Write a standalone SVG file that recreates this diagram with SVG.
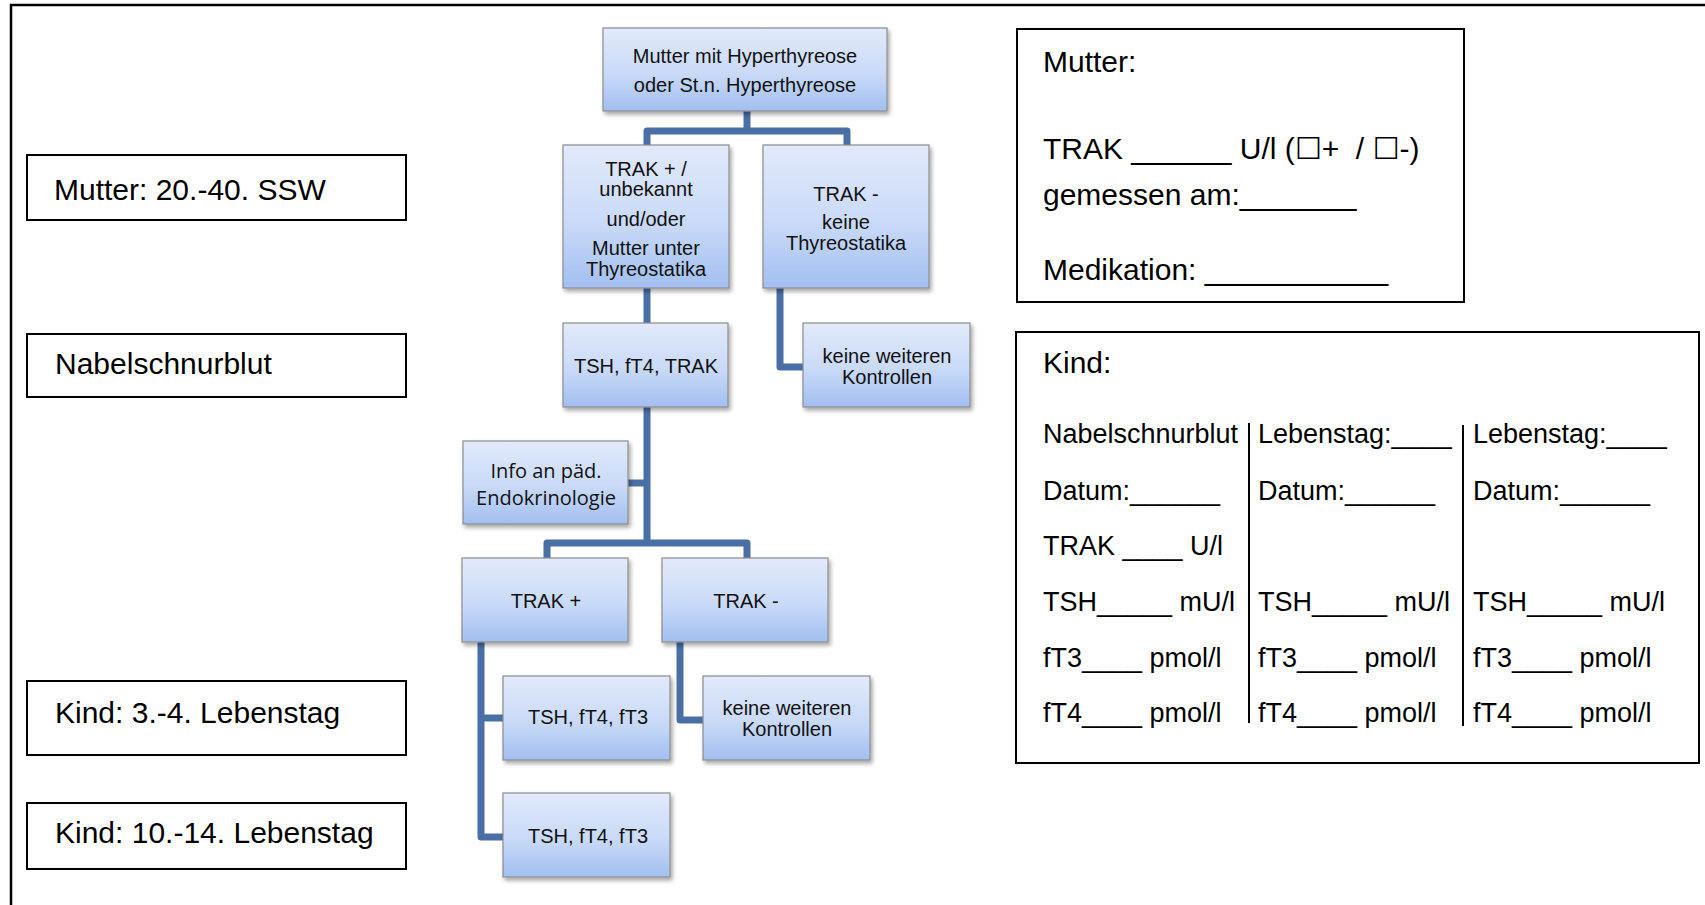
<svg xmlns="http://www.w3.org/2000/svg" width="1705" height="905" viewBox="0 0 1705 905">
<style>
.frame{fill:none;stroke:#000;stroke-width:2.5}
.lbl{fill:#fff;stroke:#000;stroke-width:2}
.lt{font-family:"Liberation Sans",Arial,sans-serif;font-size:30px;fill:#000}
.fb{fill:url(#bg);stroke:#8c8c8c;stroke-width:1.2;filter:url(#sh)}
.ft{font-family:"Liberation Sans",Arial,sans-serif;font-size:20px;fill:#111;text-anchor:middle}
.fo{font-family:"Open Sans","Noto Sans",sans-serif;font-size:20px;fill:#111;text-anchor:middle}
.con{fill:none;stroke:#4a6fa5;stroke-width:7;stroke-linejoin:round}
.box{fill:#fff;stroke:#000;stroke-width:2}
.mt{font-family:"Liberation Sans",Arial,"DejaVu Sans",sans-serif;font-size:30px;fill:#000;white-space:pre}
.kt{font-family:"Liberation Sans",Arial,"DejaVu Sans",sans-serif;font-size:27px;fill:#000;white-space:pre}
.sep{stroke:#000;stroke-width:2}
</style>
<defs>
<linearGradient id="bg" x1="0" y1="0" x2="0" y2="1">
<stop offset="0" stop-color="#e2eafb"/>
<stop offset="0.55" stop-color="#c9daf8"/>
<stop offset="1" stop-color="#a2bff0"/>
</linearGradient>
<filter id="sh" x="-10%" y="-10%" width="125%" height="130%">
<feDropShadow dx="2" dy="3" stdDeviation="2" flood-color="#000" flood-opacity="0.35"/>
</filter>
</defs>
<rect width="1705" height="905" fill="#fff"/>
<path class="frame" d="M11,910 V5 H1710"/>

<g id="lbl-mutter-ssw"><rect class="lbl" x="27" y="155" width="379" height="65"/><text class="lt" x="54" y="200">Mutter: 20.-40. SSW</text></g>
<g id="lbl-nabel"><rect class="lbl" x="27" y="334" width="379" height="63"/><text class="lt" x="55" y="374">Nabelschnurblut</text></g>
<g id="lbl-kind34"><rect class="lbl" x="27" y="681" width="379" height="74"/><text class="lt" x="55" y="723">Kind: 3.-4. Lebenstag</text></g>
<g id="lbl-kind1014"><rect class="lbl" x="27" y="803" width="379" height="66"/><text class="lt" x="55" y="843">Kind: 10.-14. Lebenstag</text></g>

<g id="connectors">
<path class="con" d="M747,111 V131"/>
<path class="con" d="M647,146 V131 H847 V146"/>
<path class="con" d="M647,288 V323"/>
<path class="con" d="M780,288 V367 H803"/>
<path class="con" d="M647,407 V543"/>
<path class="con" d="M628,483 H647"/>
<path class="con" d="M547,558 V543 H747 V558"/>
<path class="con" d="M481,642 V837 H503"/>
<path class="con" d="M481,718 H503"/>
<path class="con" d="M680,642 V720 H703"/>
</g>

<g id="n-top"><rect class="fb" x="603" y="28" width="284" height="83"/><text class="ft" x="745" y="63">Mutter mit Hyperthyreose</text><text class="ft" x="745" y="92">oder St.n. Hyperthyreose</text></g>
<g id="n-trakpos-unb"><rect class="fb" x="563" y="145" width="166" height="143"/><text class="ft" x="646" y="176">TRAK + /</text><text class="ft" x="646" y="196">unbekannt</text><text class="ft" x="646" y="226">und/oder</text><text class="ft" x="646" y="255">Mutter unter</text><text class="ft" x="646" y="276">Thyreostatika</text></g>
<g id="n-trakneg-top"><rect class="fb" x="763" y="145" width="166" height="143"/><text class="ft" x="846" y="201">TRAK -</text><text class="ft" x="846" y="229">keine</text><text class="ft" x="846" y="250">Thyreostatika</text></g>
<g id="n-tsh-trak"><rect class="fb" x="563" y="323" width="165" height="84"/><text class="ft" x="646" y="373">TSH, fT4, TRAK</text></g>
<g id="n-keine1"><rect class="fb" x="803" y="323" width="167" height="84"/><text class="ft" x="887" y="363">keine weiteren</text><text class="ft" x="887" y="384">Kontrollen</text></g>
<g id="n-info"><rect class="fb" x="463" y="441" width="165" height="83"/><text class="fo" x="546" y="478">Info an päd.</text><text class="fo" x="546" y="505">Endokrinologie</text></g>
<g id="n-trakpos"><rect class="fb" x="462" y="558" width="166" height="84"/><text class="ft" x="546" y="608">TRAK +</text></g>
<g id="n-trakneg"><rect class="fb" x="662" y="558" width="166" height="84"/><text class="ft" x="746" y="608">TRAK -</text></g>
<g id="n-tsh-ft3-1"><rect class="fb" x="503" y="676" width="167" height="84"/><text class="ft" x="588" y="724">TSH, fT4, fT3</text></g>
<g id="n-keine2"><rect class="fb" x="703" y="676" width="167" height="84"/><text class="ft" x="787" y="715">keine weiteren</text><text class="ft" x="787" y="736">Kontrollen</text></g>
<g id="n-tsh-ft3-2"><rect class="fb" x="503" y="793" width="167" height="84"/><text class="ft" x="588" y="843">TSH, fT4, fT3</text></g>

<g id="box-mutter">
<rect class="box" x="1017" y="29" width="447" height="273"/>
<text class="mt" x="1043" y="72">Mutter:</text>
<text class="mt" x="1043" y="159">TRAK ______ U/l (☐+  / ☐-)</text>
<text class="mt" x="1043" y="205">gemessen am:_______</text>
<text class="mt" x="1043" y="280">Medikation: ___________</text>
</g>

<g id="box-kind">
<rect class="box" x="1016" y="332" width="683" height="431"/>
<text class="mt" x="1043" y="373">Kind:</text>
<line class="sep" x1="1249" y1="423" x2="1249" y2="723"/>
<line class="sep" x1="1463" y1="425" x2="1463" y2="726"/>
<text class="kt" x="1043" y="443">Nabelschnurblut</text>
<text class="kt" x="1043" y="500">Datum:______</text>
<text class="kt" x="1043" y="555">TRAK ____ U/l</text>
<text class="kt" x="1043" y="611">TSH_____ mU/l</text>
<text class="kt" x="1043" y="667">fT3____ pmol/l</text>
<text class="kt" x="1043" y="722">fT4____ pmol/l</text>
<text class="kt" x="1258" y="443">Lebenstag:____</text>
<text class="kt" x="1258" y="500">Datum:______</text>
<text class="kt" x="1258" y="611">TSH_____ mU/l</text>
<text class="kt" x="1258" y="667">fT3____ pmol/l</text>
<text class="kt" x="1258" y="722">fT4____ pmol/l</text>
<text class="kt" x="1473" y="443">Lebenstag:____</text>
<text class="kt" x="1473" y="500">Datum:______</text>
<text class="kt" x="1473" y="611">TSH_____ mU/l</text>
<text class="kt" x="1473" y="667">fT3____ pmol/l</text>
<text class="kt" x="1473" y="722">fT4____ pmol/l</text>
</g>
</svg>
